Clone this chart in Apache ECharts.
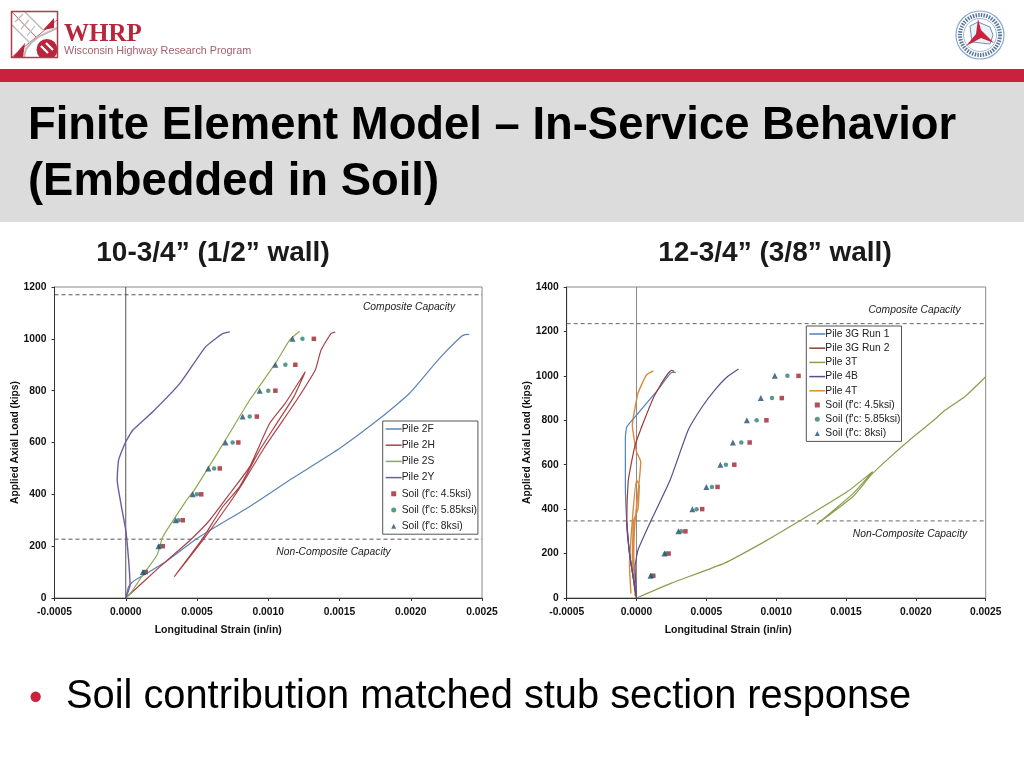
<!DOCTYPE html>
<html><head><meta charset="utf-8">
<style>html,body{margin:0;padding:0;background:#fff}#c{width:1024px;height:768px}</style>
<script src="https://cdn.jsdelivr.net/npm/echarts@6/dist/echarts.min.js"></script>
</head><body><div id="c"></div>
<script>
// ---------- data: left chart (10-3/4")
const pile2F=[[0,0],[0.00002,44],[0.00005,63],[0.00014,93],[0.00028,140],[0.00052,237],[0.00087,353],[0.00117,462],[0.0015,577],[0.0018,700],[0.00199,789],[0.0022,924],[0.00235,1007],[0.00238,1016],[0.00241,1017]];
const pile2H=[[0,0],[0.00024,121],[0.00044,217],[0.00059,301],[0.00074,410],[0.00087,507],[0.00101,674],[0.00112,752],[0.00126,873],[0.00118,777],[0.00106,674],[0.00094,571],[0.0008,430],[0.00068,352],[0.00054,230],[0.00034,82],[0.00056,237],[0.00071,352],[0.00082,442],[0.00097,578],[0.00108,667],[0.0012,764],[0.00133,880],[0.00137,956],[0.00144,1020],[0.00147,1027]];
const pile2S=[[0,0],[0.00004,24],[0.00012,89],[0.00022,166],[0.00026,236],[0.00042,372],[0.00049,424],[0.0007,610],[0.00087,764],[0.00105,905],[0.00115,995],[0.00122,1029]];
const pile2Y=[[0,0],[0.00003,50],[0.00002,147],[0,262],[-0.00003,352],[-0.00006,455],[-0.00005,533],[0,603],[0.00005,648],[0.00019,719],[0.00038,828],[0.00056,969],[0.00068,1020],[0.00073,1027]];
const soilLoads=[100,200,300,400,500,600,700,800,900,1000];
const soilL45=[0.00014,0.00026,0.0004,0.00053,0.00066,0.00079,0.00092,0.00105,0.00119,0.00132];
const soilL585=[0.00013,0.00024,0.00037,0.0005,0.00062,0.00075,0.00087,0.001,0.00112,0.00124];
const soilL8=[0.00012,0.00023,0.00035,0.00047,0.00058,0.0007,0.00082,0.00094,0.00105,0.00117];
const compositeL=1170, nonCompositeL=227;
// ---------- data: right chart (12-3/4")
const pile3G1=[[0,0],[-0.00005,200],[-0.00007,343],[-0.00008,508],[-0.00008,719],[-0.00007,770],[0,823],[0.00016,943],[0.00025,1015],[0.00028,1016]];
const pile3G2=[[0,0],[-0.00005,200],[-0.00007,343],[-0.00006,523],[-0.00004,598],[-0.00001,688],[0.00006,808],[0.00013,913],[0.00025,1025],[0.00027,1020]];
const pile3T=[[0,0],[0.00025,67],[0.00063,157],[0.00092,255],[0.00116,344],[0.00151,479],[0.00169,569],[0.00155,470],[0.00129,332],[0.00155,457],[0.00168,554],[0.00178,614],[0.00197,719],[0.00213,801],[0.00221,846],[0.00235,906],[0.0025,996]];
const pile4B=[[0,0],[-0.00001,140],[0.00001,215],[0.0001,343],[0.00024,530],[0.00037,756],[0.00047,861],[0.00056,936],[0.00065,996],[0.00073,1031]];
const pile4Brepeat=[[0,0],[-0.00005,200],[-0.00007,343]];
const pile4T=[[-0.00004,20],[-0.00005,140],[-0.00003,350],[0,531],[0.00002,508],[0.00001,400],[-0.00002,350],[-0.00003,185],[-0.00001,8],[-0.00002,200],[-0.00001,350],[0.00002,531],[0.00003,613],[0,658],[-0.00003,778],[-0.00002,823],[0.00001,921],[0.00007,1003],[0.00012,1022]];
const soilR45=[0.00012,0.00023,0.00035,0.00047,0.00058,0.0007,0.00081,0.00093,0.00104,0.00116];
const soilR585=[0.00011,0.00021,0.00032,0.00043,0.00054,0.00064,0.00075,0.00086,0.00097,0.00108];
const soilR8=[0.0001,0.0002,0.0003,0.0004,0.0005,0.0006,0.00069,0.00079,0.00089,0.00099];
const compositeR=1235, nonCompositeR=347;
const legendL=['Pile 2F','Pile 2H','Pile 2S','Pile 2Y'];
const legendR=['Pile 3G Run 1','Pile 3G Run 2','Pile 3T','Pile 4B','Pile 4T'];
const soilNames=["Soil (f'c: 4.5ksi)","Soil (f'c: 5.85ksi)","Soil (f'c: 8ksi)"];

const F='"Liberation Sans",Arial,sans-serif';
const soilStyle=[['rect',4.5,'#a3202f'],['circle',4.5,'#2f7f6e'],['triangle',6,'#1f4f78']];
const zip=(xs)=>xs.map((x,i)=>[x,soilLoads[i]]);
function line(name,data,color,i,w){return {name,type:'line',data,xAxisIndex:i,yAxisIndex:i,symbol:'none',smooth:0.15,lineStyle:{color,width:w||1.2},itemStyle:{color},animation:false,z:3};}
function rule(name,data,color,i,type){return {name,type:'line',data,xAxisIndex:i,yAxisIndex:i,symbol:'none',silent:true,lineStyle:{color,width:1,type:type||'solid'},animation:false,z:2};}
function soil(k,xs,i){const s=soilStyle[k];return {name:soilNames[k],type:'scatter',data:zip(xs),xAxisIndex:i,yAxisIndex:i,symbol:s[0],symbolSize:s[1],itemStyle:{color:s[2]},animation:false,z:5};}
function xAxis(gi,shift){return {type:'value',gridIndex:gi,min:-0.0005,max:0.0025,interval:0.0005,name:'Longitudinal Strain (in/in)',nameLocation:'middle',nameGap:27,
 nameTextStyle:{fontFamily:F,fontWeight:'bold',fontSize:10.5,color:'#111',padding:[0,shift,0,0]},
 axisLine:{onZero:false,lineStyle:{color:'#333'}},axisTick:{show:true,length:3,lineStyle:{color:'#333'}},splitLine:{show:false},
 axisLabel:{fontFamily:F,fontWeight:'bold',fontSize:10.3,color:'#111',margin:9,formatter:v=>v.toFixed(4)}};}
function yAxis(gi,max,gap){return {type:'value',gridIndex:gi,min:0,max,interval:200,name:'Applied Axial Load (kips)',nameLocation:'middle',nameGap:gap,nameRotate:90,
 nameTextStyle:{fontFamily:F,fontWeight:'bold',fontSize:10.3,color:'#111'},
 axisLine:{onZero:false,lineStyle:{color:'#333'}},axisTick:{show:true,length:3,lineStyle:{color:'#333'}},splitLine:{show:false},
 axisLabel:{fontFamily:F,fontWeight:'bold',fontSize:10.3,color:'#111',margin:8,formatter:v=>String(v)}};}
function legend(left,top,lines,gap){
 return {show:true,orient:'vertical',left,top,selectedMode:false,padding:[3,1,3,3],itemGap:gap,itemWidth:16,itemHeight:5,symbolKeepAspect:true,backgroundColor:'#fff',borderColor:'#555',borderWidth:1,
 textStyle:{fontFamily:F,fontSize:10.3,color:'#222',padding:[0,0,0,-5]},
 data:[...lines.map(n=>({name:n,icon:'path://M0 0H16V1.5H0Z'})),
  {name:soilNames[0],icon:'path://M0 0H10V10H0Z'},
  {name:soilNames[1],icon:'path://M5 0A5 5 0 1 1 5 10A5 5 0 1 1 5 0Z'},
  {name:soilNames[2],icon:'path://M5 0L10 10H0Z'}]};
}
// ---------- decorative page furniture
const g=[];
const rect=(x,y,w,h,fill,z)=>g.push({type:'rect',shape:{x,y,width:w,height:h},style:{fill},z:z||0,silent:true});
const text=(t,x,y,font,fill,align,z)=>g.push({type:'text',style:{text:t,x,y,font,fill,textAlign:align||'left',textVerticalAlign:'middle'},z:z||10,silent:true});
rect(0,69,1024,13,'#c8223f');
rect(0,82,1024,140,'#dcdcdc');
text('Finite Element Model \u2013 In-Service Behavior',28,126,'bold 45.4px '+F,'#000');
text('(Embedded in Soil)',28,182,'bold 45.4px '+F,'#000');
text('10-3/4\u201d (1/2\u201d wall)',213,253,'bold 28px '+F,'#1a1a1a','center');
text('12-3/4\u201d (3/8\u201d wall)',775,253,'bold 28px '+F,'#1a1a1a','center');
text('\u2022',29,700,'38px '+F,'#c8223f');
text('Soil contribution matched stub section response',66,697,'39.8px '+F,'#000');
text('Composite Capacity',409,307,'italic 10.3px '+F,'#222','center');
text('Non-Composite Capacity',333.5,552,'italic 10.3px '+F,'#222','center');
text('Composite Capacity',914.5,310,'italic 10.3px '+F,'#222','center');
text('Non-Composite Capacity',910,534,'italic 10.3px '+F,'#222','center');
// WHRP logo
text('WHRP',64,35,'bold 25px "Liberation Serif",serif','#b8263c');
text('Wisconsin Highway Research Program',64,51.5,'10.8px '+F,'#a4606c');
const red='#b8263c';
const pl=(pts,c,w)=>g.push({type:'polyline',shape:{points:pts},style:{stroke:c,lineWidth:w,fill:null},z:2,silent:true});
const pg=(pts,c)=>g.push({type:'polygon',shape:{points:pts},style:{fill:c},z:2,silent:true});
pl([[12,12],[36,37]],'#b8606c',1);
pl([[12,57],[57,20]],'#b8606c',1);
pl([[25,12],[43,30]],'#bbb',1.5);pl([[12,25],[30,43]],'#bbb',1.5);
pl([[23,14],[15,22]],'#bbb',1.2);pl([[29,20],[21,29]],'#bbb',1.2);pl([[35,26],[27,36]],'#bbb',1.2);
pl([[24,57],[26,49],[32,42],[40,36],[57,28]],'#bbb',2);
pg([[43,30],[54,18],[54,28]],red);
pg([[13,57],[25,43],[23,57]],red);
g.push({type:'circle',shape:{cx:47,cy:49.5,r:10.5},style:{fill:red},z:2,silent:true});
rect(58,36,6,26,'#fff',3);rect(36,58,28,5,'#fff',3);
g.push({type:'polyline',shape:{points:[[41,46],[48,53]]},style:{stroke:'#fff',lineWidth:2.2,fill:null},z:3,silent:true});
g.push({type:'polyline',shape:{points:[[46,43],[53,50]]},style:{stroke:'#fff',lineWidth:2.2,fill:null},z:3,silent:true});
g.push({type:'rect',shape:{x:11.5,y:11.5,width:46,height:46},style:{fill:null,stroke:'#a8404f',lineWidth:1.5},z:4,silent:true});
// DOT seal
g.push({type:'circle',shape:{cx:980,cy:35,r:24},style:{fill:'#fff',stroke:'#8aa8cc',lineWidth:1.2},z:1,silent:true});
g.push({type:'circle',shape:{cx:980,cy:35,r:20},style:{fill:null,stroke:'#5a789f',lineWidth:4,lineDash:[1.5,1.2]},z:1,silent:true});
g.push({type:'circle',shape:{cx:980,cy:35,r:16.5},style:{fill:'#fff',stroke:'#8aa8cc',lineWidth:0.8},z:1,silent:true});
pg([[970,26],[978,22],[990,27],[993,35],[990,44],[972,42]],'#eef2f7');
pl([[970,26],[978,22],[990,27],[993,35],[990,44],[972,42],[970,26]],'#6f93bd',1);
pg([[978,19],[981,30],[994,43],[981,38],[966,46],[976,34]],'#c8223f');

const option={
 backgroundColor:'#fff',animation:false,
 grid:[
  {left:54.5,top:287,width:427.5,height:311,show:true,borderColor:'#888',borderWidth:1,backgroundColor:'transparent',containLabel:false},
  {left:566.7,top:287,width:419,height:311,show:true,borderColor:'#888',borderWidth:1,backgroundColor:'transparent',containLabel:false}
 ],
 xAxis:[xAxis(0,100),xAxis(1,96)],
 yAxis:[yAxis(0,1200,32),yAxis(1,1400,34)],
 legend:[legend(382.7,421,legendL,6.2),legend(806.3,326,legendR,4.2)],
 graphic:{elements:g},
 series:[
  rule('zeroL',[[0,0],[0,1200]],'#555',0),
  rule('compL',[[-0.0005,compositeL],[0.0025,compositeL]],'#555',0,[4,3]),
  rule('nonL',[[-0.0005,nonCompositeL],[0.0025,nonCompositeL]],'#555',0,[4,3]),
  line('Pile 2F',pile2F,'#5b84b8',0),line('Pile 2H',pile2H,'#aa4448',0),line('Pile 2S',pile2S,'#8fa852',0),line('Pile 2Y',pile2Y,'#6f5c9e',0,1.4),
  soil(0,soilL45,0),soil(1,soilL585,0),soil(2,soilL8,0),
  rule('zeroR',[[0,0],[0,1400]],'#888',1),
  rule('compR',[[-0.0005,compositeR],[0.0025,compositeR]],'#666',1,[4,3]),
  rule('nonR',[[-0.0005,nonCompositeR],[0.0025,nonCompositeR]],'#666',1,[4,3]),
  line('Pile 3T',pile3T,'#8a9f4c',1),line('Pile 4T',pile4T,'#d88a3c',1,1.4),
  line('Pile 3G Run 1',pile3G1,'#4f81bd',1),line('Pile 3G Run 2',pile3G2,'#9c3a3a',1),
  line('Pile 4B',pile4B,'#5d4b8e',1),line('Pile 4B',pile4Brepeat,'#5d4b8e',1),
  soil(0,soilR45,1),soil(1,soilR585,1),soil(2,soilR8,1)
 ]
};
echarts.init(document.getElementById('c'),null,{renderer:'canvas'}).setOption(option);
</script></body></html>
